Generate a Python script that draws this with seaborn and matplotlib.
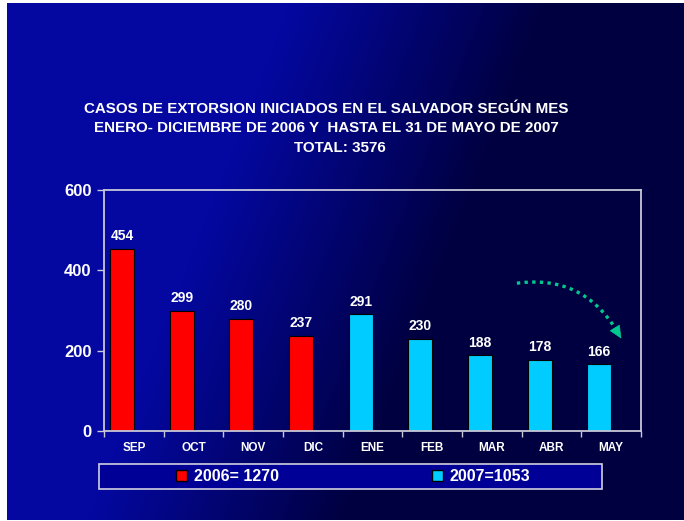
import numpy as np
import pandas as pd
import matplotlib
matplotlib.use("Agg")
import matplotlib.pyplot as plt
from matplotlib.patches import Patch, Rectangle
import seaborn as sns

# ---- data ----
months = ["SEP", "OCT", "NOV", "DIC", "ENE", "FEB", "MAR", "ABR", "MAY"]
cases = [454, 299, 280, 237, 291, 230, 188, 178, 166]
years = ["2006", "2006", "2006", "2006", "2007", "2007", "2007", "2007", "2007"]
legend_labels = ["2006= 1270", "2007=1053"]
title_lines = ["CASOS DE EXTORSION INICIADOS EN EL SALVADOR SEGÚN MES",
               "ENERO- DICIEMBRE DE 2006 Y  HASTA EL 31 DE MAYO DE 2007",
               "TOTAL: 3576"]
y_ticks = [0, 200, 400, 600]

df = pd.DataFrame({"mes": months, "casos": cases, "anio": years})
palette = {"2006": "#FF0000", "2007": "#00CCFF"}

sns.set_theme(style="white")
plt.rcParams["font.family"] = ["Liberation Sans", "DejaVu Sans"]

W, H = 684, 521
fig = plt.figure(figsize=(W / 100, H / 100), dpi=100, facecolor="white")

# background gradient (slide)
bg = fig.add_axes([7 / W, 1 / H, 677 / W, 517 / H], zorder=-10)
xx, yy = np.meshgrid(np.linspace(0, 1, 400), np.linspace(0, 1, 300))
t = np.clip((xx + 0.3 * yy - 0.42) / 0.38, 0, 1)
bright = np.array([4, 8, 160]) / 255
dark = np.array([0, 0, 64]) / 255
img = bright[None, None, :] * (1 - t[..., None]) + dark[None, None, :] * t[..., None]
bg.imshow(img, aspect="auto", extent=[0, 1, 0, 1], origin="upper")
bg.set_axis_off()

# main axes
ax = fig.add_axes([104 / W, (H - 431) / H, (641 - 104) / W, (431 - 190) / H])
ax.set_facecolor("none")
sns.barplot(data=df, x="mes", y="casos", hue="anio", palette=palette,
            dodge=False, width=0.4, edgecolor="black", linewidth=0.8,
            saturation=1, legend=False, ax=ax)

for cont in ax.containers:
    ax.bar_label(cont, fmt="%d", padding=4, color="white",
                 fontsize=10, fontweight="bold")

ax.set_xlim(-0.3, len(months) - 0.3)
ax.set_ylim(0, 600)
ax.set_yticks(y_ticks)
ax.set_xlabel("")
ax.set_ylabel("")

# category labels at category centers, tick marks at boundaries
ax.set_xticks(np.arange(len(months)) + 0.2)
ax.set_xticklabels(months)
ax.set_xticks(np.arange(len(months) + 1) - 0.3, minor=True)
ax.tick_params(axis="x", which="major", length=0, pad=8, labelcolor="white",
               labelsize=8.5)
ax.tick_params(axis="x", which="minor", length=4, width=1, color="#C8C8D8",
               direction="out")
ax.tick_params(axis="y", length=5, width=1, color="#C8C8D8", direction="out",
               pad=4, labelcolor="white", labelsize=12)
ax.tick_params(left=True, bottom=True, which="both")
for lab in ax.get_xticklabels() + ax.get_yticklabels():
    lab.set_fontweight("bold")
for s in ax.spines.values():
    s.set_visible(True)
    s.set_color("#C8C8D8")
    s.set_linewidth(1.3)

# dotted trend arrow (dotted body + solid head)
ax.annotate("", xy=(8.3, 248), xytext=(6.62, 368),
            arrowprops=dict(arrowstyle="-",
                            connectionstyle="arc3,rad=-0.33",
                            color="#00C890", lw=2.4, capstyle="butt",
                            linestyle=(0, (1.0, 1.3)), shrinkA=0, shrinkB=0))
ax.annotate("", xy=(8.37, 230), xytext=(8.28, 252),
            arrowprops=dict(arrowstyle="-|>,head_length=0.7,head_width=0.32",
                            color="#00C890", lw=0.5, shrinkA=0, shrinkB=0))

# title
for line, xc, yc in zip(title_lines, [326.5, 326.5, 340], [109, 128, 148]):
    fig.text(xc / W, 1 - yc / H, line, ha="center", va="center",
             color="white", fontsize=10.9, fontweight="bold")

# legend box
fig.patches.append(Rectangle((99 / W, (H - 489) / H), (602 - 99) / W, 25 / H,
                             transform=fig.transFigure, facecolor="#000096",
                             edgecolor="#D0D0E0", linewidth=1.2, zorder=1))
handles = [Patch(facecolor=palette["2006"], edgecolor="black"),
           Patch(facecolor=palette["2007"], edgecolor="black")]
leg = fig.legend(handles, legend_labels, loc="center",
                 bbox_to_anchor=(353 / W, 1 - 476.5 / H), ncol=2,
                 frameon=False, handlelength=0.7, handleheight=0.7,
                 handletextpad=0.4, columnspacing=9.6,
                 prop={"weight": "bold", "size": 11.5})
for txt in leg.get_texts():
    txt.set_color("white")
leg.set_zorder(5)

fig.savefig("out.png", dpi=100, facecolor="white")
